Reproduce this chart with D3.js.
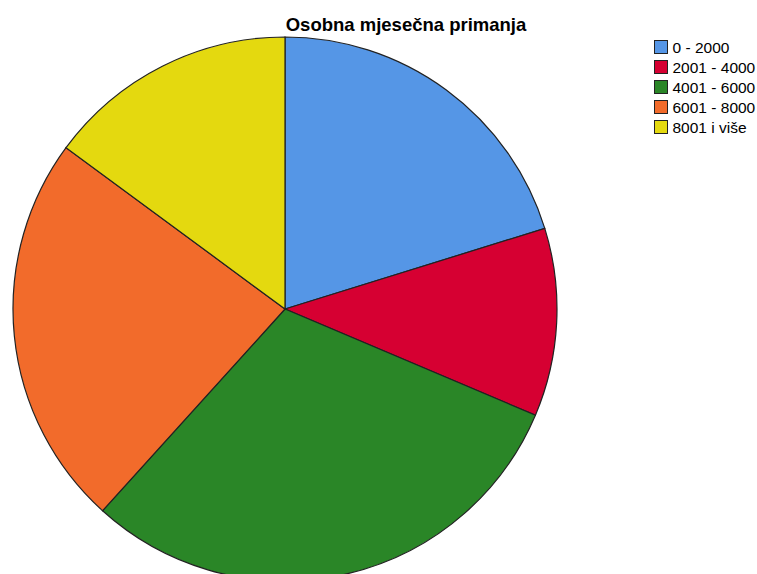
<!DOCTYPE html>
<html>
<head>
<meta charset="utf-8">
<script src="https://cdn.jsdelivr.net/npm/d3@7"></script>
<style>
body { margin: 0; background: #fff; }
</style>
</head>
<body>
<svg></svg>
<script>
var categories = ["0 - 2000", "2001 - 4000", "4001 - 6000", "6001 - 8000", "8001 i više"];
var counts = [38, 21, 57, 44, 28];
var colors = ["#5596e6", "#d60032", "#2a8627", "#f26b2b", "#e4d90f"];

var width = 757;
var height = 574;

var svg = d3.select("svg")
  .attr("width", width)
  .attr("height", height);

var data = categories.map(function(c, i) {
  return {label: c, value: counts[i], color: colors[i]};
});

var pie = d3.pie()
  .sort(null)
  .value(function(d) { return d.value; });

var arc = d3.arc()
  .innerRadius(0)
  .outerRadius(272);

var g = svg.append("g")
  .attr("transform", "translate(285,309)");

g.selectAll("path")
  .data(pie(data))
  .enter()
  .append("path")
  .attr("d", arc)
  .attr("fill", function(d) { return d.data.color; })
  .attr("stroke", "#222")
  .attr("stroke-width", 1.2);

svg.append("text")
  .text("Osobna mjesečna primanja")
  .attr("x", 406)
  .attr("y", 30.5)
  .attr("text-anchor", "middle")
  .attr("font-family", "Liberation Sans, Arial, sans-serif")
  .attr("font-weight", "bold")
  .attr("font-size", "18.5px")
  .attr("fill", "#000");

var legend = svg.append("g")
  .attr("transform", "translate(654,40)");

var rows = legend.selectAll("g")
  .data(data)
  .enter()
  .append("g")
  .attr("transform", function(d, i) { return "translate(0," + (i * 20) + ")"; });

rows.append("rect")
  .attr("x", 0.5)
  .attr("y", 0.5)
  .attr("width", 13)
  .attr("height", 13)
  .attr("fill", function(d) { return d.color; })
  .attr("stroke", "#222")
  .attr("stroke-width", 1);

rows.append("text")
  .text(function(d) { return d.label; })
  .attr("x", 18.5)
  .attr("y", 13)
  .attr("font-family", "Liberation Sans, Arial, sans-serif")
  .attr("font-size", "15.5px")
  .attr("fill", "#000");
</script>
</body>
</html>
